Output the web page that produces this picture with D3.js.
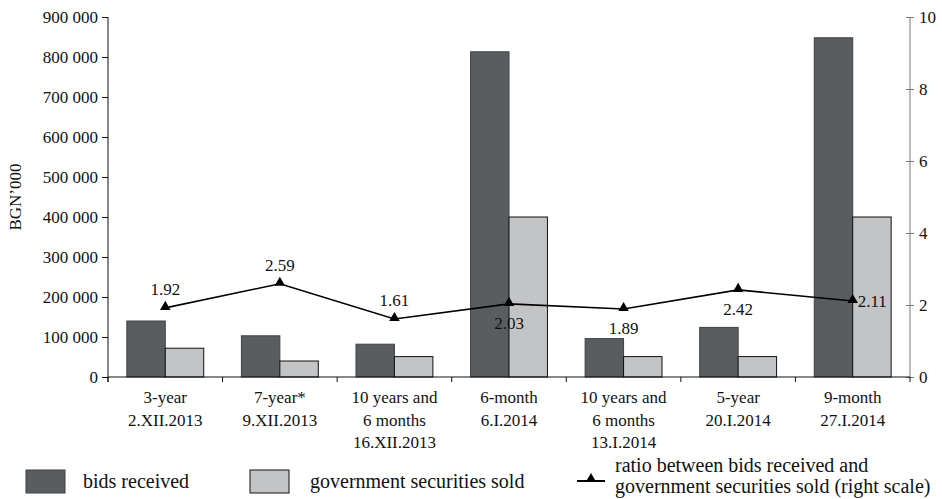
<!DOCTYPE html>
<html>
<head>
<meta charset="utf-8">
<script src="https://cdn.jsdelivr.net/npm/d3@7"></script>
<style>
  body { margin: 0; background: #fff; }
  svg text { font-family: "Liberation Serif", "Times New Roman", serif; fill: #111; }
</style>
</head>
<body>
<div id="chart"></div>
<script>
// chart data
var categories = [
  ["3-year", "2.XII.2013"],
  ["7-year*", "9.XII.2013"],
  ["10 years and", "6 months", "16.XII.2013"],
  ["6-month", "6.I.2014"],
  ["10 years and", "6 months", "13.I.2014"],
  ["5-year", "20.I.2014"],
  ["9-month", "27.I.2014"]
];
var bidsReceived = [140000, 103000, 82000, 813000, 96000, 124000, 848000];
var securitiesSold = [72000, 40000, 51000, 400000, 51000, 51000, 400000];
var ratio = [1.92, 2.59, 1.61, 2.03, 1.89, 2.42, 2.11];
var ratioLabels = ["1.92", "2.59", "1.61", "2.03", "1.89", "2.42", "2.11"];
var leftTicks = [0, 100000, 200000, 300000, 400000, 500000, 600000, 700000, 800000, 900000];
var rightTicks = [0, 2, 4, 6, 8, 10];

// where each ratio label sits relative to its point
var labelSide = ["above", "above", "above", "below", "below", "below", "right"];

var width = 942, height = 499;
var mLeft = 108, mRight = 910, mTop = 17, mBottom = 377;

var svg = d3.select("#chart").append("svg")
    .attr("width", width)
    .attr("height", height);

var idx = d3.range(categories.length);

var x = d3.scaleBand()
    .domain(idx)
    .range([mLeft, mRight])
    .padding(0);

var xSub = d3.scaleBand()
    .domain(["bids", "sold"])
    .range([0, x.bandwidth()])
    .paddingInner(0)
    .paddingOuter(0.49);

var y = d3.scaleLinear().domain([0, 900000]).range([mBottom, mTop]);
var yR = d3.scaleLinear().domain([0, 10]).range([mBottom, mTop]);

var fmt = function(d) { return d3.format(",")(d).replace(/,/g, " "); };

// bars
var groups = svg.append("g").selectAll("g")
    .data(idx)
    .enter().append("g")
    .attr("transform", function(i) { return "translate(" + x(i) + ",0)"; });

groups.append("rect")
    .attr("x", xSub("bids"))
    .attr("y", function(i) { return y(bidsReceived[i]); })
    .attr("width", xSub.bandwidth())
    .attr("height", function(i) { return y(0) - y(bidsReceived[i]); })
    .style("fill", "#5a5d60")
    .style("stroke", "#3f4143")
    .style("stroke-width", 1);

groups.append("rect")
    .attr("x", xSub("sold"))
    .attr("y", function(i) { return y(securitiesSold[i]); })
    .attr("width", xSub.bandwidth())
    .attr("height", function(i) { return y(0) - y(securitiesSold[i]); })
    .style("fill", "#c3c4c6")
    .style("stroke", "#111")
    .style("stroke-width", 1);

// left axis
var yAxis = svg.append("g")
    .attr("transform", "translate(" + mLeft + ",0)")
    .call(d3.axisLeft(y).tickValues(leftTicks).tickFormat(fmt).tickSize(6).tickPadding(4));
yAxis.select(".domain").attr("d", "M0," + mTop + "V" + (mBottom + 5)).style("stroke", "#111");
yAxis.selectAll(".tick line").style("stroke", "#111");
yAxis.selectAll("text").style("font-size", "17px").style("font-family", "Liberation Serif").attr("fill", "#111");

// right axis
var yAxisR = svg.append("g")
    .attr("transform", "translate(" + mRight + ",0)")
    .call(d3.axisRight(yR).tickValues(rightTicks).tickSize(4).tickPadding(5));
yAxisR.select(".domain").attr("d", "M0," + mTop + "V" + mBottom).style("stroke", "#777");
yAxisR.selectAll(".tick line").attr("x1", -4).style("stroke", "#777");
yAxisR.selectAll("text").style("font-size", "17px").style("font-family", "Liberation Serif").attr("fill", "#111");

// bottom axis line and boundary ticks
svg.append("line")
    .attr("x1", mLeft).attr("x2", mRight)
    .attr("y1", mBottom).attr("y2", mBottom)
    .style("stroke", "#111");

svg.append("g").selectAll("line")
    .data(d3.range(categories.length + 1))
    .enter().append("line")
    .attr("x1", function(i) { return mLeft + i * x.step(); })
    .attr("x2", function(i) { return mLeft + i * x.step(); })
    .attr("y1", mBottom)
    .attr("y2", mBottom + 5)
    .style("stroke", "#111");

// category labels
var catText = svg.append("g").selectAll("text")
    .data(idx)
    .enter().append("text")
    .attr("text-anchor", "middle")
    .style("font-size", "17px")
    .attr("transform", function(i) { return "translate(" + (x(i) + x.bandwidth() / 2) + ",403)"; });

catText.selectAll("tspan")
    .data(function(i) { return categories[i]; })
    .enter().append("tspan")
    .attr("x", 0)
    .attr("y", function(d, j) { return j * 22.5; })
    .text(function(d) { return d; });

// y label
svg.append("text")
    .attr("transform", "translate(21,197) rotate(-90)")
    .attr("text-anchor", "middle")
    .style("font-size", "17px")
    .text("BGN\u2019000");

// ratio line
var cx = function(i) { return x(i) + x.bandwidth() / 2; };
var line = d3.line()
    .x(function(i) { return cx(i); })
    .y(function(i) { return yR(ratio[i]); });

svg.append("path")
    .datum(idx)
    .attr("d", line)
    .style("fill", "none")
    .style("stroke", "#000")
    .style("stroke-width", 1.6);

var tri = d3.symbol().type(d3.symbolTriangle).size(48);
svg.append("g").selectAll("path")
    .data(idx)
    .enter().append("path")
    .attr("d", tri)
    .attr("transform", function(i) { return "translate(" + cx(i) + "," + (yR(ratio[i]) - 1) + ")"; })
    .style("fill", "#000");

svg.append("g").selectAll("text")
    .data(idx)
    .enter().append("text")
    .style("font-size", "17px")
    .attr("text-anchor", function(i) { return labelSide[i] === "right" ? "start" : "middle"; })
    .attr("x", function(i) { return labelSide[i] === "right" ? cx(i) + 5 : cx(i); })
    .attr("y", function(i) {
      var py = yR(ratio[i]);
      if (labelSide[i] === "above") return py - 13;
      if (labelSide[i] === "below") return py + 25;
      return py + 6;
    })
    .text(function(i) { return ratioLabels[i]; });

// legend
var lg = svg.append("g");
lg.append("rect").attr("x", 26).attr("y", 470).attr("width", 39).attr("height", 23)
    .style("fill", "#5a5d60").style("stroke", "#3f4143");
lg.append("text").attr("x", 83).attr("y", 488).style("font-size", "20px").text("bids received");
lg.append("rect").attr("x", 250).attr("y", 470).attr("width", 39).attr("height", 23)
    .style("fill", "#c3c4c6").style("stroke", "#111");
lg.append("text").attr("x", 310).attr("y", 488).style("font-size", "20px").text("government securities sold");
lg.append("line").attr("x1", 577).attr("x2", 605).attr("y1", 481).attr("y2", 481)
    .style("stroke", "#000").style("stroke-width", 2);
lg.append("path").attr("d", tri).attr("transform", "translate(591,479)").style("fill", "#000");
lg.append("text").attr("x", 615).attr("y", 472).style("font-size", "20px").text("ratio between bids received and");
lg.append("text").attr("x", 615).attr("y", 493).style("font-size", "20px").text("government securities sold (right scale)");
</script>
</body>
</html>
